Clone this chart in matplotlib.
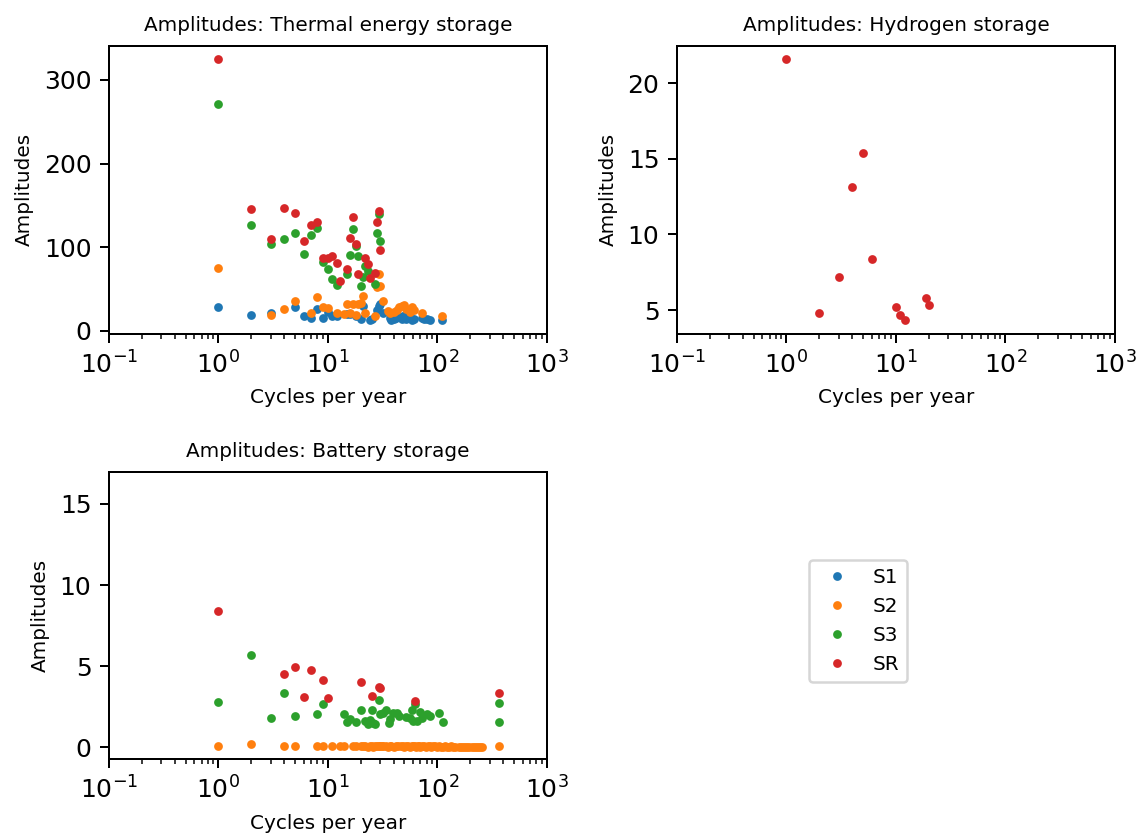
import matplotlib
matplotlib.use("Agg")
import matplotlib.pyplot as plt

# Thermal energy storage amplitudes per cycles-per-year
thermal_s1_x = [1, 2, 3, 5, 6, 7, 8, 9, 10, 11, 12, 15, 16, 18, 20, 21, 24, 25, 28, 29, 30, 32,
                37, 38, 40, 42, 44, 45, 47, 48, 50, 52, 56, 58, 61, 72, 75, 80, 86, 109]
thermal_s1_y = [28.2, 19, 21, 28.2, 17.4, 15, 26, 15, 22, 18, 17, 20, 19.6, 18, 14, 30, 12.5, 13.5, 25, 29, 32, 20.8,
                14.8, 13, 14, 15.5, 17, 16, 14, 17.5, 18, 14, 16, 13, 14.5, 15, 14, 13.4, 12.2, 12.8]

thermal_s2_x = [1, 3, 4, 5, 7, 8, 9, 10, 12, 14, 15, 16, 17, 18, 19, 20, 21, 22, 27, 28, 29, 30, 32,
                35, 37, 40, 43, 45, 47, 50, 52, 56, 59, 61, 72, 109]
thermal_s2_y = [75.3, 19, 25.8, 35.4, 21, 39.9, 28.2, 27, 21, 20.5, 32, 21, 31.6, 18.5, 31.6, 33.3, 41.7, 21.2, 18, 52, 67.7, 53.7, 34.9,
                23, 21.2, 22.8, 25.2, 28, 30, 31.2, 26, 22, 28.8, 25.2, 21.2, 17.6]

thermal_s3_x = [1, 2, 3, 4, 5, 6, 7, 8, 9, 10, 11, 12, 15, 16, 17, 18, 19, 20, 21, 22, 23, 27, 28, 29, 30]
thermal_s3_y = [270.8, 127, 103.5, 109.5, 117.2, 92.3, 113.9, 122.4, 82.3, 74.3, 61.4, 54.2, 68.3, 91, 121.6,
                101, 89.3, 53.7, 63.7, 77.7, 71.3, 55.7, 116.6, 139.4, 107.8]

thermal_sr_x = [1, 2, 3, 4, 5, 6, 7, 8, 9, 10, 11, 12, 13, 15, 16, 17, 18, 19, 22, 23, 24, 27, 28, 29, 30]
thermal_sr_y = [325, 145.4, 109.1, 146.2, 141.4, 107.6, 126.4, 130.4, 87.5, 87.3, 89.2, 81, 59.4, 74.3, 111.2,
                136.2, 103.8, 67.3, 86.5, 79.3, 62.5, 68.9, 129.8, 143.4, 96.2]

# Hydrogen storage
hydrogen_sr_x = [1, 2, 3, 4, 5, 6, 10, 11, 12, 19, 20]
hydrogen_sr_y = [21.58, 4.8, 7.2, 13.15, 15.35, 8.4, 5.22, 4.65, 4.32, 5.81, 5.37]

# Battery storage
battery_s2_x = [1, 2, 4, 5, 8, 9, 11, 13, 14, 17, 18, 20, 21, 22, 23, 24, 25, 26, 27, 28, 29, 30,
                31, 32, 34, 35, 37, 38, 40, 42, 44, 46, 48, 50, 52, 54, 56, 58, 60, 62, 64, 66, 68,
                70, 73, 76, 79, 82, 85, 88, 92, 96, 100, 104, 108, 113, 118, 123, 128, 134, 140, 145,
                158, 165, 172, 180, 188, 196, 205, 214, 224, 234, 245, 255, 365]
battery_s2_y = [0.06, 0.19, 0.05, 0.05, 0.05, 0.08, 0.08, 0.05, 0.05, 0.05, 0.08, 0.06, 0.05, 0.05, 0.04, 0.05,
                0.05, 0.04, 0.05, 0.06, 0.05, 0.05, 0.06, 0.05, 0.05, 0.04, 0.05, 0.05, 0.04, 0.05, 0.05,
                0.06, 0.05, 0.04, 0.05, 0.05, 0.04, 0.05, 0.06, 0.05, 0.04, 0.05, 0.05, 0.04, 0.05, 0.05,
                0.04, 0.05, 0.05, 0.04, 0.05, 0.05, 0.04, 0.05, 0.04, 0.04, 0.05, 0.04, 0.04, 0.05, 0.04,
                0.04, 0.04, 0.04, 0.04, 0.04, 0.04, 0.04, 0.04, 0.04, 0.04, 0.04, 0.04, 0.04, 0.06]

battery_s3_x = [1, 2, 3, 4, 5, 8, 9, 14, 15, 16, 18, 20, 22, 23, 24, 25, 26, 27, 29, 30, 32, 34, 36,
                37, 39, 43, 45, 52, 56, 58, 60, 63, 65, 69, 72, 80, 85, 104, 113, 365, 366]
battery_s3_y = [2.81, 5.66, 1.82, 3.32, 1.92, 2.08, 2.70, 2.06, 1.57, 1.75, 1.55, 2.33, 1.60, 1.44, 1.71,
                2.29, 1.50, 1.42, 2.93, 2.03, 2.13, 2.29, 1.47, 1.73, 2.10, 2.12, 1.92, 1.85, 1.82, 2.29,
                1.61, 2.70, 1.61, 2.19, 1.82, 2.03, 1.95, 2.12, 1.55, 2.71, 1.55]

battery_sr_x = [1, 4, 5, 6, 7, 9, 10, 20, 25, 29, 30, 63, 365]
battery_sr_y = [8.38, 4.54, 4.93, 3.08, 4.75, 4.15, 3.03, 4.03, 3.14, 3.70, 3.63, 2.85, 3.37]

fig, axes = plt.subplots(2, 2, figsize=(1140 / 180, 837 / 180), dpi=180)
fig.subplots_adjust(left=0.0956, right=0.978, top=0.945, bottom=0.0932, wspace=0.297, hspace=0.48)

ax1, ax2 = axes[0]
ax3, ax4 = axes[1]

mk = dict(marker='.', linestyle='none', markersize=5)

ax1.plot(thermal_s1_x, thermal_s1_y, color='C0', label='S1', **mk)
ax1.plot(thermal_s2_x, thermal_s2_y, color='C1', label='S2', **mk)
ax1.plot(thermal_s3_x, thermal_s3_y, color='C2', label='S3', **mk)
ax1.plot(thermal_sr_x, thermal_sr_y, color='C3', label='SR', **mk)
ax1.set_title('Amplitudes: Thermal energy storage', fontsize=8)

ax2.plot(hydrogen_sr_x, hydrogen_sr_y, color='C3', **mk)
ax2.set_title('Amplitudes: Hydrogen storage', fontsize=8)

ax3.plot(battery_s2_x, battery_s2_y, color='C1', **mk)
ax3.plot(battery_s3_x, battery_s3_y, color='C2', **mk)
ax3.plot(battery_sr_x, battery_sr_y, color='C3', **mk)
ax3.set_title('Amplitudes: Battery storage', fontsize=8)
ax3.set_ylim(-0.72, 17.0)

for ax in (ax1, ax2, ax3):
    ax.set_xscale('log')
    ax.set_xlim(1e-1, 1e3)
    ax.set_xlabel('Cycles per year', fontsize=8)
    ax.set_ylabel('Amplitudes', fontsize=8)

ax4.axis('off')
handles, labels = ax1.get_legend_handles_labels()
fig.legend(handles, labels, loc='center', bbox_to_anchor=(858 / 1140, 1 - 621 / 837), fontsize=8)

fig.savefig('out.png', dpi=180)
